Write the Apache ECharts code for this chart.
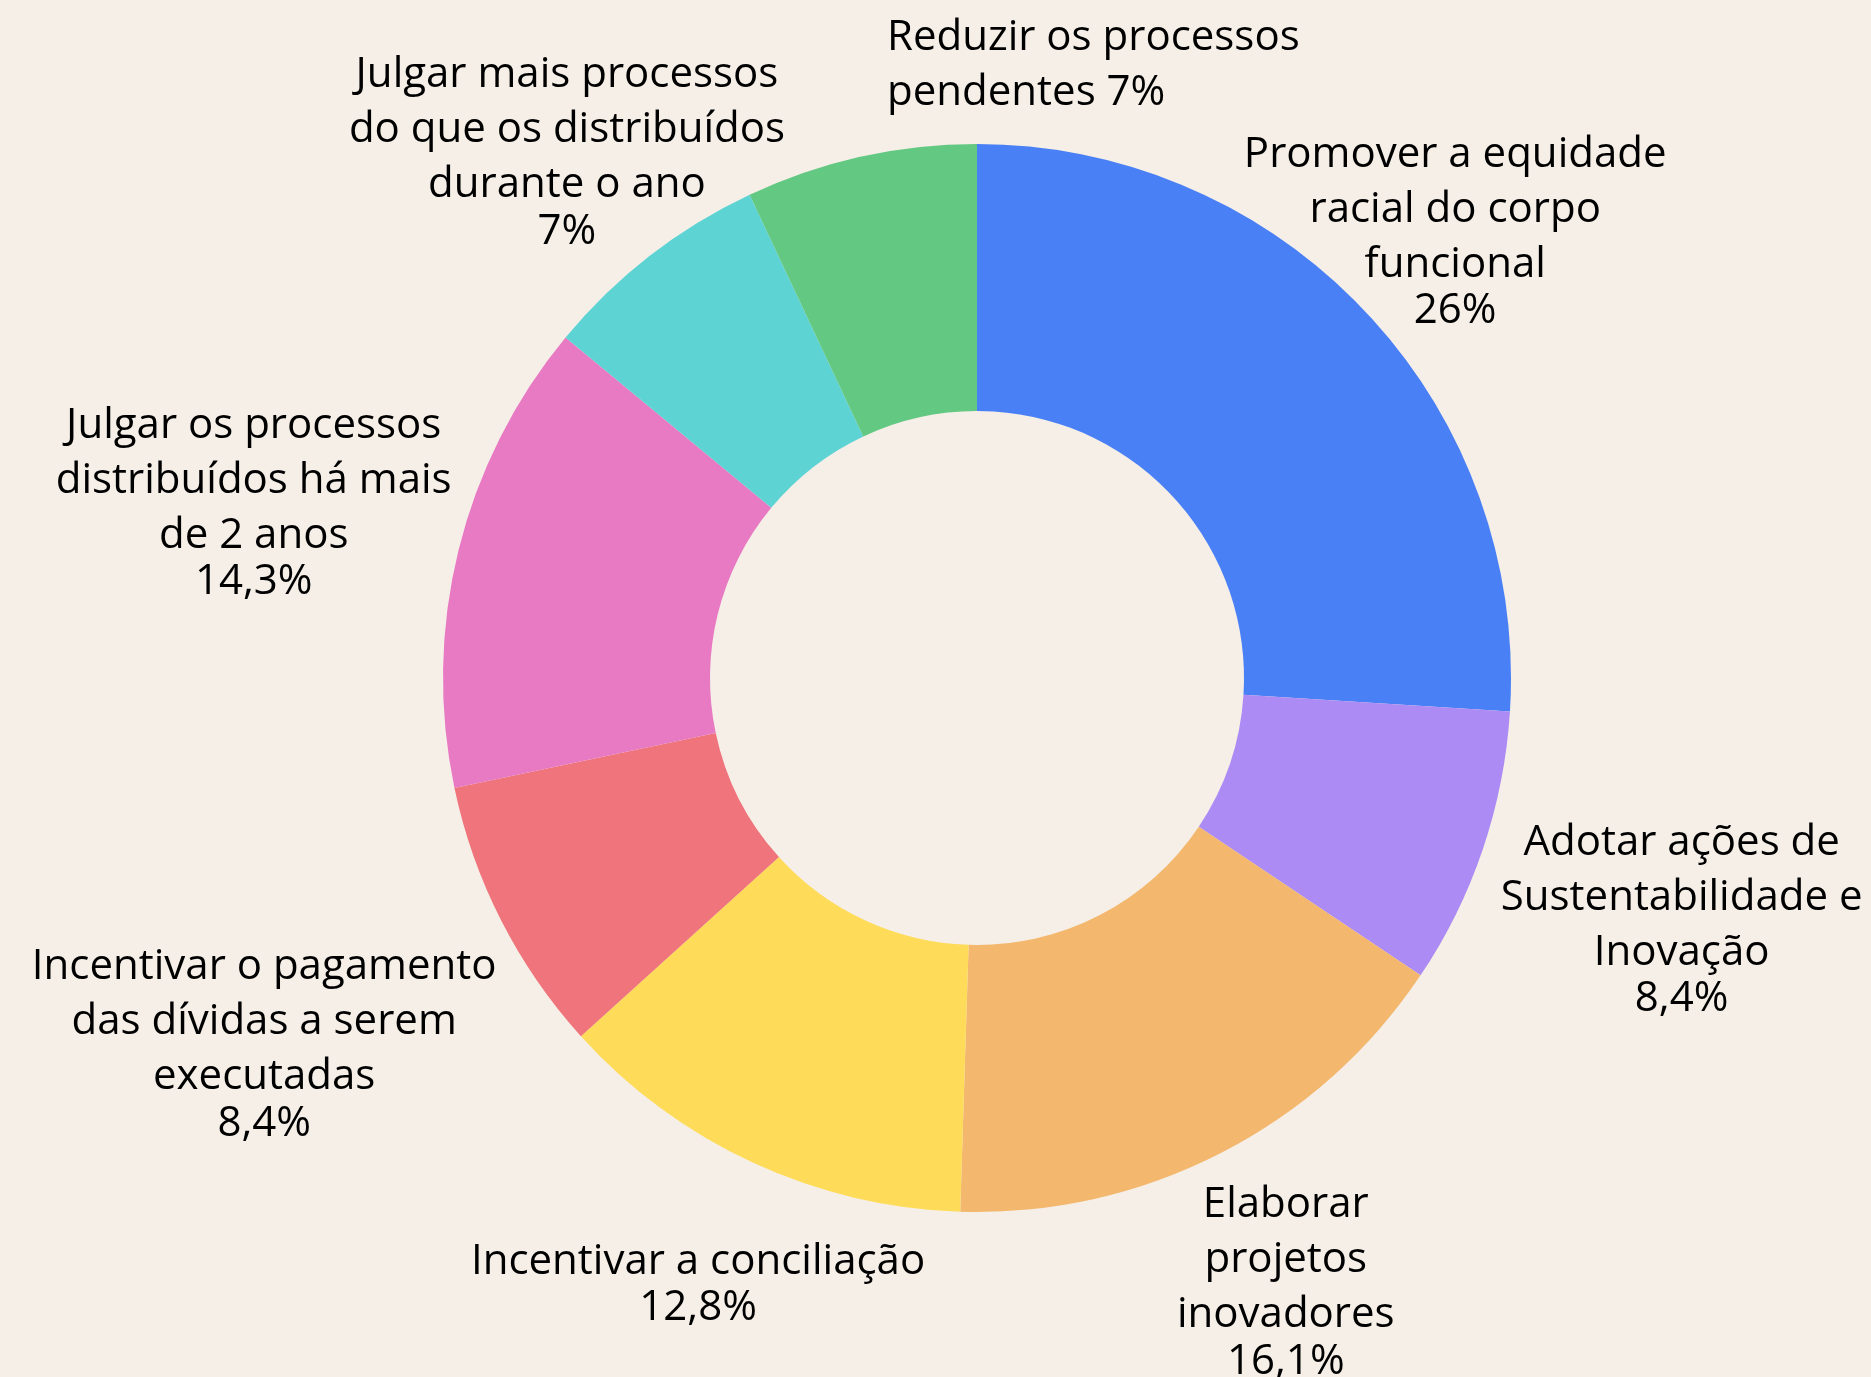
<!DOCTYPE html>
<html>
<head>
<meta charset="utf-8">
<script src="https://cdn.jsdelivr.net/npm/echarts@6/dist/echarts.min.js"></script>
<style>
  html, body { margin: 0; padding: 0; background: #F5EFE8; }
  #chart { width: 1871px; height: 1377px; }
</style>
</head>
<body>
<div id="chart"></div>
<script>
// categorias (com as quebras de linha do rótulo)
var categorias = [
    "Promover a equidade\nracial do corpo\nfuncional",
    "Adotar ações de\nSustentabilidade e\nInovação",
    "Elaborar\nprojetos\ninovadores",
    "Incentivar a conciliação",
    "Incentivar o pagamento\ndas dívidas a serem\nexecutadas",
    "Julgar os processos\ndistribuídos há mais\nde 2 anos",
    "Julgar mais processos\ndo que os distribuídos\ndurante o ano",
    "Reduzir os processos\npendentes"
];
// percentuais
var valores = [26, 8.4, 16.1, 12.8, 8.4, 14.3, 7, 7];
var cores = ["#4A80F6", "#AD8BF4", "#F3B86E", "#FEDC5A", "#EF747B", "#E87AC3", "#5DD4D3", "#63C882"];

var cx = 977, cy = 678;
// distancia do centro ate o meio do rotulo
var distRotulo = [656, 744, 676, 664, 800, 745, 669, 0];
var fonte = 'Open Sans';

var total = 0;
for (var i = 0; i < valores.length; i++) total += valores[i];
var meio = [];
var acum = 0;
for (var i = 0; i < valores.length; i++) {
    meio.push((acum + valores[i] / 2) / total * 2 * Math.PI);
    acum += valores[i];
}

function pct(v) {
    return String(v).replace('.', ',') + '%';
}

var dados = [];
for (var i = 0; i < valores.length; i++) {
    dados.push({ name: categorias[i], value: valores[i], itemStyle: { color: cores[i] } });
}

var myChart = echarts.init(document.getElementById('chart'));
var option = {
    backgroundColor: '#F5EFE8',
    animation: false,
    series: [{
        type: 'pie',
        center: [cx, cy],
        radius: [267, 534],
        startAngle: 90,
        clockwise: true,
        avoidLabelOverlap: false,
        data: dados,
        labelLine: { show: false },
        label: {
            show: true,
            position: 'outside',
            color: '#000',
            fontFamily: fonte,
            formatter: function (p) {
                if (p.dataIndex == 7) {
                    return '{n|' + p.name + ' ' + pct(p.value) + '}';
                }
                var linhas = p.name.split('\n');
                var txt = '';
                for (var k = 0; k < linhas.length; k++) {
                    txt += '{n|' + linhas[k] + '}\n';
                }
                return txt + '{p|' + pct(p.value) + '}';
            },
            rich: {
                n: { fontSize: 42, lineHeight: 55, fontFamily: fonte, color: '#000' },
                p: { fontSize: 42, lineHeight: 38, fontFamily: fonte, color: '#000' }
            }
        },
        labelLayout: function (params) {
            var i = params.dataIndex;
            if (i == 7) {
                return { x: 887, y: 66, align: 'left', verticalAlign: 'middle' };
            }
            var a = meio[i];
            return {
                x: cx + distRotulo[i] * Math.sin(a),
                y: cy - distRotulo[i] * Math.cos(a),
                align: 'center',
                verticalAlign: 'middle'
            };
        }
    }]
};
myChart.setOption(option);
</script>
</body>
</html>
